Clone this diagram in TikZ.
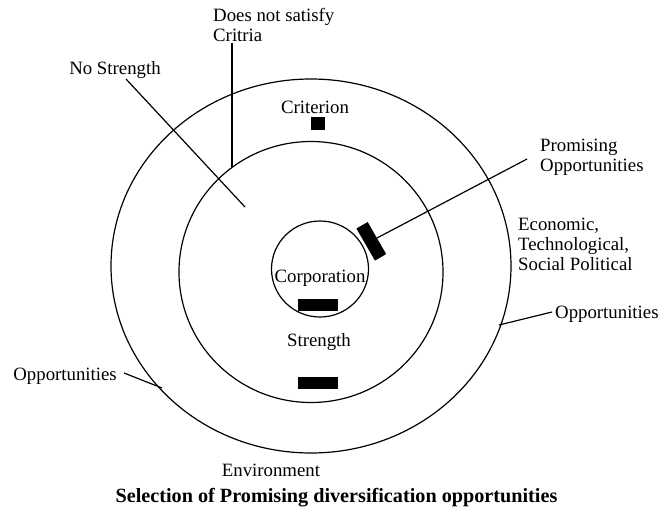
\documentclass[tikz,border=0pt]{standalone}
\usepackage{fontspec}
\setmainfont{Liberation Serif}
\usetikzlibrary{shapes.geometric}
\tikzset{
  ring/.style={draw, ellipse, line width=1.2pt, inner sep=0pt},
  lbl/.style={inner sep=0pt, font=\fontsize{18.8}{20}\selectfont},
  lbll/.style={lbl, align=left, anchor=west},
  lead/.style={line width=1.2pt},
  bar/.style={fill=black, inner sep=0pt}
}
\begin{document}
\begin{tikzpicture}[x=1pt,y=-1pt]
\useasboundingbox (0,0) rectangle (664,517);
% rings
\node[ring, minimum width=400pt, minimum height=374pt] (outer) at (311,266) {};
\node[ring, minimum width=264pt, minimum height=261pt] (middle) at (311,272) {};
\node[ring, minimum width=97pt, minimum height=96pt] (inner) at (320,269) {};
% bars
\node[bar, minimum width=14pt, minimum height=13pt] (critbar) at (318,123.5) {};
\node[bar, minimum width=40pt, minimum height=12pt] (corpbar) at (317.5,305) {};
\node[bar, minimum width=40pt, minimum height=12pt] (strbar) at (317.5,383) {};
\node[bar, minimum width=37pt, minimum height=13pt, rotate=-60] (promobar) at (371.3,241.3) {};
% labels
\node[lbll] (dns) at (213,25) {Does not satisfy\\Critria};
\node[lbl] (nostr) at (115,70) {No Strength};
\node[lbl] (crit) at (315,107) {Criterion};
\node[lbll] (promo) at (540,157) {Promising\\Opportunities};
\node[lbll] (econ) at (518,244) {Economic,\\Technological,\\Social Political};
\node[lbll] (oppr) at (555,314) {Opportunities};
\node[lbl, anchor=east] (oppl) at (117,376) {Opportunities};
\node[lbl] (corp) at (320,278) {Corporation};
\node[lbl] (str) at (319,342) {Strength};
\node[lbl] (env) at (271,470) {Environment};
\node[inner sep=0pt, font=\fontsize{20.2}{22}\selectfont\bfseries] (cap) at (336.5,498) {Selection of Promising diversification opportunities};
% leader lines
\coordinate (dnsA) at (232,43);
\coordinate (dnsB) at (232,167);
\coordinate (nsA) at (126,79);
\coordinate (nsB) at (245,207);
\coordinate (prA) at (527,159);
\coordinate (orA) at (552,312);
\coordinate (orB) at (499,325);
\coordinate (olA) at (124,373);
\coordinate (olB) at (162,388);
\draw[lead] (dnsA) -- (dnsB);
\draw[lead] (nsA) -- (nsB);
\draw[lead] (prA) -- (promobar.north);
\draw[lead] (orA) -- (orB);
\draw[lead] (olA) -- (olB);
\end{tikzpicture}
\end{document}
